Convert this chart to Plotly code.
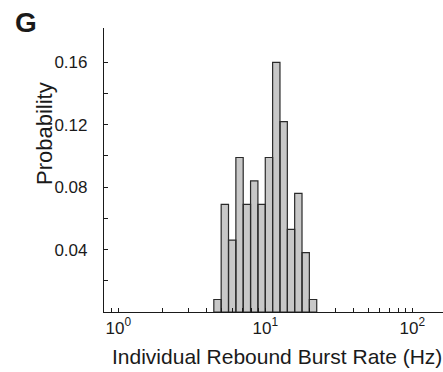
import plotly.graph_objects as go

# Histogram of individual rebound burst rates, log-spaced bins (Hz)
bin_edges = [4.467, 5.012, 5.623, 6.310, 7.079, 7.943, 8.913, 10.0,
             11.22, 12.59, 14.13, 15.85, 17.78, 19.95, 22.39]
probability = [0.008, 0.069, 0.046, 0.099, 0.069, 0.084, 0.069,
               0.099, 0.160, 0.122, 0.053, 0.076, 0.038, 0.008]

x_tickvals = [1, 10, 100]
x_ticktext = ["10<sup>0</sup>", "10<sup>1</sup>", "10<sup>2</sup>"]
x_minor = [0.9, 2, 3, 4, 5, 6, 7, 8, 9, 20, 30, 40, 50, 60, 70, 80, 90]
y_tickvals = [0.04, 0.08, 0.12, 0.16]
y_ticktext = ["0.04", "0.08", "0.12", "0.16"]
y_minor = [0.02, 0.06, 0.10, 0.14]

W, H = 443, 372
ML, MR, MT, MB = 104, 0, 28, 60
PW, PH = W - ML - MR, H - MT - MB

def px_x(p):
    return (p - ML) / PW

def px_y(p):
    return (H - MB - p) / PH

# one closed outline per bin, separated by gaps
xs, ys = [], []
for i, h in enumerate(probability):
    l, r = bin_edges[i], bin_edges[i + 1]
    xs += [l, l, r, r, l, None]
    ys += [0, h, h, 0, 0, None]

fig = go.Figure()
fig.add_trace(go.Scatter(
    x=xs, y=ys, mode="lines", fill="toself",
    fillcolor="#c8c8c8",
    line=dict(color="#2a2a2a", width=1.2),
    hoverinfo="skip", showlegend=False,
))

font_family = "Liberation Sans, Arial, sans-serif"
ink = "#1a1a1a"

fig.update_layout(
    width=W, height=H,
    margin=dict(l=ML, r=MR, t=MT, b=MB),
    paper_bgcolor="white", plot_bgcolor="white",
    font=dict(family=font_family, color=ink),
    xaxis=dict(
        type="log", range=[-0.097, 2.209],
        showline=True, linecolor=ink, linewidth=1.2,
        showgrid=False, zeroline=False,
        ticks="inside", ticklen=4, tickwidth=1, tickcolor=ink,
        tickvals=x_tickvals, ticktext=x_ticktext,
        tickfont=dict(size=17, color=ink),
        minor=dict(tickvals=x_minor, ticks="inside", ticklen=4,
                   tickwidth=1, tickcolor=ink, showgrid=False),
    ),
    yaxis=dict(
        range=[0, 0.182],
        showline=True, linecolor=ink, linewidth=1.2,
        showgrid=False, zeroline=False,
        ticks="inside", ticklen=4, tickwidth=1, tickcolor=ink,
        tickvals=y_tickvals, ticktext=y_ticktext,
        tickfont=dict(size=17, color=ink),
        ticklabelstandoff=12,
        minor=dict(tickvals=y_minor, ticks="inside", ticklen=4,
                   tickwidth=1, tickcolor=ink, showgrid=False),
    ),
    annotations=[
        dict(text="Individual Rebound Burst Rate (Hz)",
             xref="paper", yref="paper", x=px_x(277), y=px_y(356),
             xanchor="center", yanchor="middle", showarrow=False,
             font=dict(size=21, color=ink)),
        dict(text="Probability", textangle=-90,
             xref="paper", yref="paper", x=px_x(44), y=px_y(134),
             xanchor="center", yanchor="middle", showarrow=False,
             font=dict(size=22, color=ink)),
        dict(text="<b>G</b>",
             xref="paper", yref="paper", x=px_x(26), y=px_y(22),
             xanchor="center", yanchor="middle", showarrow=False,
             font=dict(size=28, color=ink)),
    ],
)

fig.write_html("out.html")
